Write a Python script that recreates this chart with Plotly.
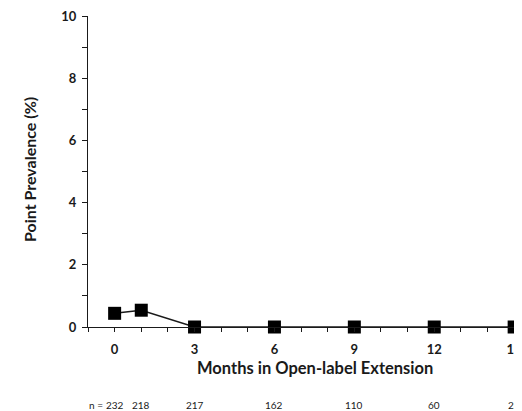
import plotly.graph_objects as go

# data
months = [0, 1, 3, 6, 9, 12, 15]
prevalence = [0.44, 0.54, 0, 0, 0, 0, 0]
n_months = [0, 1, 3, 6, 9, 12, 15]
n_labels = ["232", "218", "217", "162", "110", "60", "23"]

FONT = "Lato"
INK = "#1a1a1a"

fig = go.Figure()
fig.add_trace(go.Scatter(
    x=months, y=prevalence, mode="lines+markers",
    line=dict(color=INK, width=1.5),
    marker=dict(symbol="square", size=13, color="black"),
    cliponaxis=False, showlegend=False, hoverinfo="skip"))

ann = []
for m, t in zip(n_months, n_labels):
    ann.append(dict(x=m, y=-0.251, xref="x", yref="paper", text=t, showarrow=False,
                    xanchor="center", yanchor="middle", font=dict(size=10, color=INK, family=FONT)))
ann.append(dict(x=0, y=-0.251, xref="x", yref="paper", text="n =", showarrow=False,
                xanchor="right", xshift=-10, yanchor="middle", font=dict(size=10, color=INK, family=FONT)))
ann.append(dict(x=0.525, y=-0.132, xref="paper", yref="paper", text="<b>Months in Open-label Extension</b>",
                showarrow=False, xanchor="center", yanchor="middle", font=dict(size=16.5, color=INK, family=FONT)))
ann.append(dict(x=-0.134, y=0.505, xref="paper", yref="paper", text="<b>Point Prevalence (%)</b>",
                showarrow=False, textangle=-90, xanchor="center", yanchor="middle",
                font=dict(size=16, color=INK, family=FONT)))

# page body has an 8px margin, so the figure is 8px smaller and margins shifted
fig.update_layout(
    width=514, height=403,
    margin=dict(l=80, r=0, t=8, b=84),
    paper_bgcolor="white", plot_bgcolor="white",
    font=dict(family=FONT, color=INK),
    xaxis=dict(range=[-1, 15.22], tick0=0, dtick=3, ticks="outside", ticklen=4, tickwidth=1,
               tickcolor=INK, showline=True, linecolor=INK, linewidth=1.3, showgrid=False,
               zeroline=False, ticklabeloverflow="allow", ticklabelstandoff=6,
               tickfont=dict(size=13, family=FONT, weight="bold", color=INK),
               minor=dict(dtick=1, tick0=0, ticks="outside", ticklen=4, tickcolor=INK)),
    yaxis=dict(range=[0, 10], tick0=0, dtick=2, ticks="outside", ticklen=5, tickwidth=1,
               tickcolor=INK, showline=True, linecolor=INK, linewidth=1.3, showgrid=False,
               zeroline=False, ticklabeloverflow="allow", ticklabelstandoff=3,
               tickfont=dict(size=13, family=FONT, weight="bold", color=INK),
               minor=dict(dtick=1, ticks="outside", ticklen=5, tickcolor=INK)),
    annotations=ann,
)

fig.write_html("out.html")
